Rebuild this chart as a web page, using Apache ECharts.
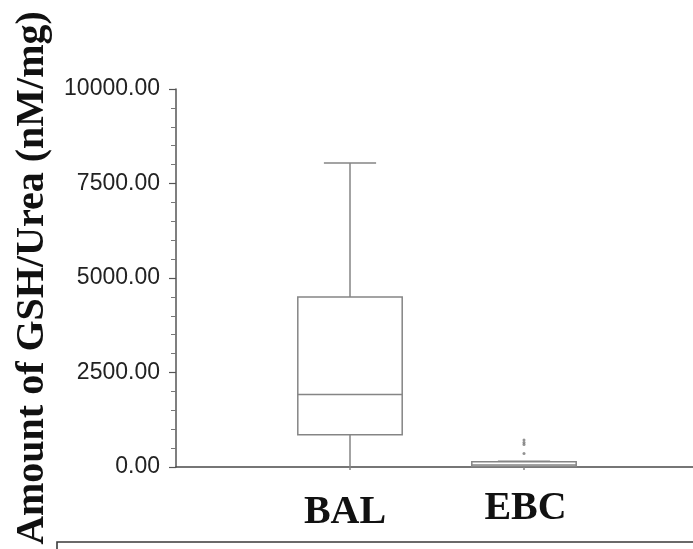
<!DOCTYPE html>
<html>
<head>
<meta charset="utf-8">
<script src="https://cdn.jsdelivr.net/npm/echarts@6/dist/echarts.min.js"></script>
<style>
  html, body { margin: 0; padding: 0; background: #fff; }
  #chart { width: 693px; height: 549px; }
</style>
</head>
<body>
<div id="chart"></div>
<script>
// Sample groups (empty slots pad the axis on both ends)
const categories = ['', 'BAL', 'EBC', ''];
// Five-number summaries: [min, Q1, median, Q3, max]
const balBox = [0, 850, 1920, 4500, 8040];
const ebcBox = [0, 15, 50, 140, 150];
// Outlying EBC measurements
const ebcOutliers = [715, 650, 595, 360];
const yTicks = [0, 2500, 5000, 7500, 10000];

const boxData = [
  [1].concat(balBox),
  [2].concat(ebcBox)
];
const outlierData = ebcOutliers.map(v => [2, v]);

const chart = echarts.init(document.getElementById('chart'), null, { renderer: 'canvas' });

const lineColor = '#858585';

function renderBox(params, api) {
  const idx = api.value(0);
  const vals = [1, 2, 3, 4, 5].map(i => api.value(i));
  const pMin = api.coord([idx, vals[0]]);
  const pQ1 = api.coord([idx, vals[1]]);
  const pMed = api.coord([idx, vals[2]]);
  const pQ3 = api.coord([idx, vals[3]]);
  const pMax = api.coord([idx, vals[4]]);
  const band = api.size([1, 0])[0];
  const half = band * 0.3;
  const capHalf = half / 2;
  const cx = pMed[0];
  const style = { stroke: lineColor, lineWidth: 1.5, fill: null };
  return {
    type: 'group',
    children: [
      { type: 'line', shape: { x1: cx, y1: pQ3[1], x2: cx, y2: pMax[1] }, style: style },
      { type: 'line', shape: { x1: cx, y1: pQ1[1], x2: cx, y2: pMin[1] + 3 }, style: style },
      { type: 'line', shape: { x1: cx - capHalf, y1: pMax[1], x2: cx + capHalf, y2: pMax[1] }, style: style },
      { type: 'rect', shape: { x: cx - half, y: pQ3[1], width: half * 2, height: pQ1[1] - pQ3[1] },
        style: { stroke: lineColor, lineWidth: 1.5, fill: '#fff' } },
      { type: 'line', shape: { x1: cx - half, y1: pMed[1], x2: cx + half, y2: pMed[1] }, style: style }
    ]
  };
}

const option = {
  animation: false,
  backgroundColor: '#fff',
  grid: { left: 176, width: 522, top: 89, bottom: 82, containLabel: false, outerBoundsMode: 'none' },
  xAxis: {
    type: 'category',
    data: categories,
    boundaryGap: false,
    axisLine: { show: true, lineStyle: { color: '#4a4a4a', width: 1.6 } },
    axisTick: { show: false },
    splitLine: { show: false },
    axisLabel: {
      margin: 22,
      interval: 0,
      formatter: function (v) {
        if (v === 'BAL') return '{bal|BAL}';
        if (v === 'EBC') return '{ebc|EBC}';
        return '';
      },
      rich: {
        bal: { fontFamily: 'Liberation Serif, Times New Roman, serif', fontWeight: 'bold', fontSize: 40, color: '#111', padding: [4, 10, 0, 0] },
        ebc: { fontFamily: 'Liberation Serif, Times New Roman, serif', fontWeight: 'bold', fontSize: 40, color: '#111', padding: [0, 0, 0, 3] }
      }
    }
  },
  yAxis: {
    type: 'value',
    min: yTicks[0],
    max: yTicks[yTicks.length - 1],
    interval: yTicks[1] - yTicks[0],
    name: 'Amount of GSH/Urea (nM/mg)',
    nameLocation: 'middle',
    nameGap: 122,
    nameRotate: 90,
    nameTextStyle: {
      fontFamily: 'Liberation Serif, Times New Roman, serif',
      fontWeight: 'bold',
      fontSize: 40,
      color: '#111'
    },
    axisLine: { show: true, lineStyle: { color: '#555', width: 1.5 } },
    axisTick: { show: true, inside: false, length: 7, lineStyle: { color: '#555', width: 1.2 } },
    minorTick: { show: true, splitNumber: 5, length: 5, lineStyle: { color: '#777', width: 1 } },
    splitLine: { show: false },
    axisLabel: {
      margin: 16,
      fontFamily: 'Liberation Sans, Arial, sans-serif',
      fontSize: 23,
      color: '#222',
      formatter: v => v.toFixed(2)
    }
  },
  series: [
    {
      type: 'custom',
      renderItem: renderBox,
      encode: { x: 0, y: [1, 2, 3, 4, 5] },
      data: boxData,
      z: 3
    },
    {
      type: 'scatter',
      data: outlierData,
      symbol: 'circle',
      symbolSize: 3,
      itemStyle: { color: '#777' },
      z: 4
    }
  ],
  graphic: [
    {
      type: 'polyline',
      shape: { points: [[57, 549], [57, 542], [693, 542]] },
      style: { stroke: '#3a3a3a', lineWidth: 1.6, fill: null }
    }
  ]
};

chart.setOption(option);
</script>
</body>
</html>
